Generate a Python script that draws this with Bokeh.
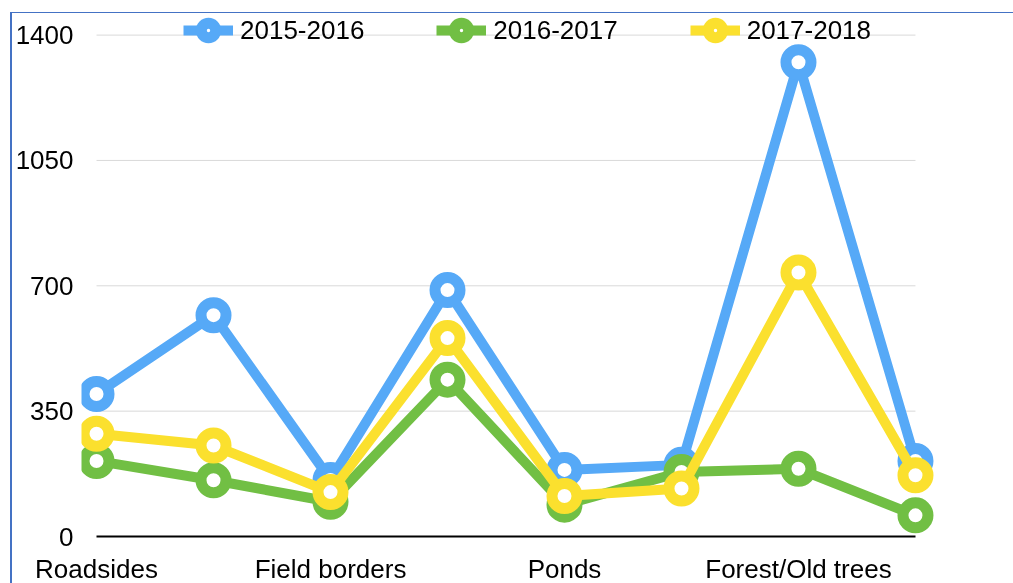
from bokeh.plotting import figure
from bokeh.models import Range1d, FixedTicker, Legend, LegendItem
from bokeh.embed import file_html
from bokeh.resources import INLINE

# ---- data ----
categories = ["Roadsides", "", "Field borders", "", "Ponds", "", "Forest/Old trees", ""]
series_names = ["2015-2016", "2016-2017", "2017-2018"]
s_2015_2016 = [398, 618, 158, 688, 186, 200, 1324, 211]
s_2016_2017 = [211, 157, 97, 438, 89, 180, 189, 59]
s_2017_2018 = [287, 254, 124, 554, 113, 134, 737, 171]
y_ticks = [0, 350, 700, 1050, 1400]

series = [s_2015_2016, s_2016_2017, s_2017_2018]
colors = ["#56A9F7", "#71BF44", "#FBE02E"]
FONT = "Liberation Sans"

x = list(range(len(categories)))
n_last = len(categories) - 1

p = figure(width=1001, height=572, output_backend="svg", toolbar_location=None,
           x_range=Range1d(-0.1284, 7.231), y_range=Range1d(0, 1460.3),
           min_border_left=68, min_border_right=73, min_border_top=0, min_border_bottom=46,
           styles={"position": "fixed", "left": "10px", "top": "12px",
                   "box-sizing": "content-box",
                   "border-left": "2px solid #4472C4", "border-top": "1px solid #4472C4"})
p.outline_line_color = None
p.xgrid.visible = False
p.ygrid.visible = False
p.background_fill_color = "white"
p.border_fill_color = "white"

# horizontal gridlines spanning the category extent
gy = y_ticks[1:]
p.segment(x0=[0] * len(gy), x1=[n_last] * len(gy), y0=gy, y1=gy,
          line_color="#D9D9D9", line_width=1)

# series
items = []
for name, vals, c in zip(series_names, series, colors):
    lr = p.line(x=x, y=vals, line_color=c, line_width=10, line_join="round")
    mr = p.scatter(x=x, y=vals, marker="circle", size=25, line_color=c, line_width=11,
                   fill_color="white")
    items.append(LegendItem(label=name, renderers=[lr, mr]))

# axes
xa = p.xaxis[0]
xa.ticker = FixedTicker(ticks=[i for i, c in enumerate(categories) if c])
xa.major_label_overrides = {i: c for i, c in enumerate(categories) if c}
xa.bounds = (0, n_last)
xa.axis_line_color = "black"
xa.axis_line_width = 2
xa.major_tick_line_color = None
xa.minor_tick_line_color = None
xa.major_tick_out = 0
xa.major_tick_in = 0
xa.major_label_standoff = 17
xa.major_label_text_font = FONT
xa.major_label_text_font_size = "26px"
xa.major_label_text_color = "black"

ya = p.yaxis[0]
ya.ticker = FixedTicker(ticks=y_ticks)
ya.axis_line_color = None
ya.major_tick_line_color = None
ya.minor_tick_line_color = None
ya.major_tick_out = 0
ya.major_tick_in = 0
ya.major_label_standoff = 8
ya.major_label_text_font = FONT
ya.major_label_text_font_size = "26px"
ya.major_label_text_color = "black"

legend = Legend(items=items, orientation="horizontal", location=(102, 488),
                glyph_width=50, glyph_height=36, label_standoff=7, spacing=72,
                padding=0, margin=0, background_fill_alpha=0, border_line_color=None,
                label_text_font=FONT, label_text_font_size="26px",
                label_text_color="black")
p.add_layout(legend)

open("out.html", "w").write(file_html(p, INLINE))
